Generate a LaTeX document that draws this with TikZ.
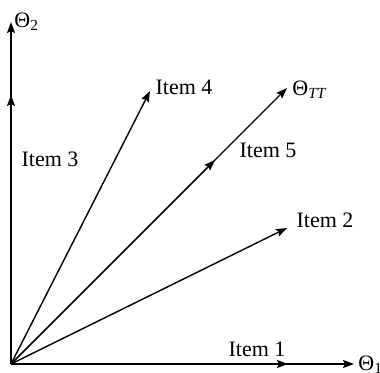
\documentclass[tikz,border=0pt]{standalone}
\usepackage{fontspec}
\setmainfont{Liberation Serif}
\usetikzlibrary{arrows.meta}
\begin{document}
\begin{tikzpicture}[x=0.5pt,y=-0.5pt,
  vec/.style={line width=0.7pt,-{Stealth[length=5.5pt,width=4pt,inset=1pt]}},
  lbl/.style={font=\fontsize{11}{13}\selectfont, inner sep=0pt}]
\useasboundingbox (0,0) rectangle (380,373);
\coordinate (O) at (11,364);
\coordinate (X) at (354,364);
\coordinate (Y) at (11,22);
\coordinate (I1) at (288,364);
\coordinate (I3) at (11,95);
\coordinate (I4) at (150,91);
\coordinate (TT) at (287,88);
\coordinate (I5) at (215,160);
\coordinate (I2) at (287,228);
\draw[vec] (O) -- (X);
\draw[vec] (O) -- (Y);
\draw[vec] (O) -- (I1);
\draw[vec] (O) -- (I3);
\draw[vec] (O) -- (I4);
\draw[vec] (O) -- (TT);
\draw[vec] (O) -- (I5);
\draw[vec] (O) -- (I2);
\node[lbl, anchor=west] (t1) at (358,365) {Θ\textsubscript{1}};
\node[lbl, anchor=west] (t2) at (14,22) {Θ\textsubscript{2}};
\node[lbl, anchor=west] (tt) at (292,90) {Θ\textsubscript{\textit{TT}}};
\node[lbl] (l1) at (257,349) {Item 1};
\node[lbl] (l2) at (325,220) {Item 2};
\node[lbl] (l3) at (50,159) {Item 3};
\node[lbl] (l4) at (184,87) {Item 4};
\node[lbl] (l5) at (268,150) {Item 5};
\end{tikzpicture}
\end{document}
